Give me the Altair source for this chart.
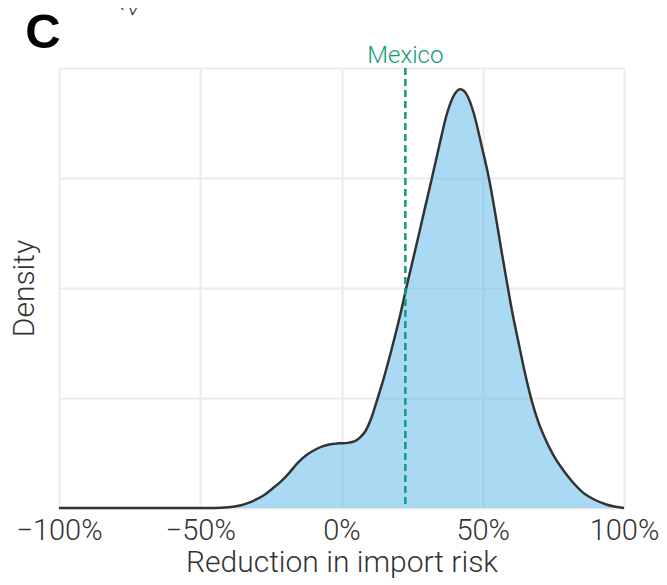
import altair as alt
import pandas as pd

# Density curve (x as fraction, density in grid units)
reduction = [-1.00, -0.45, -0.40, -0.36, -0.332, -0.30, -0.272, -0.245, -0.215, -0.185,
             -0.155, -0.125, -0.097, -0.068, -0.039, -0.01, 0.021, 0.045, 0.065, 0.085,
             0.103, 0.127, 0.145, 0.176, 0.206, 0.230, 0.266, 0.292, 0.321, 0.345,
             0.374, 0.400, 0.421, 0.445, 0.468, 0.497, 0.521, 0.544, 0.564, 0.583,
             0.603, 0.627, 0.650, 0.674, 0.697, 0.721, 0.748, 0.786, 0.815, 0.855,
             0.896, 0.94, 1.00]
density = [0.0, 0.0, 0.006, 0.022, 0.045, 0.08, 0.12, 0.175, 0.24, 0.32,
           0.41, 0.48, 0.525, 0.56, 0.58, 0.588, 0.592, 0.605, 0.64, 0.70,
           0.80, 0.99, 1.14, 1.43, 1.736, 2.009, 2.40, 2.69, 3.009, 3.282,
           3.591, 3.76, 3.806, 3.75, 3.591, 3.282, 3.009, 2.682, 2.373, 2.09,
           1.80, 1.50, 1.22, 0.97, 0.78, 0.63, 0.49, 0.34, 0.245, 0.14,
           0.075, 0.03, 0.0]
mexico_value = [0.226]
mexico_label = ["Mexico"]
x_ticks = [-1.0, -0.5, 0.0, 0.5, 1.0]
y_ticks = [0, 1, 2, 3, 4]

df = pd.DataFrame({"x": reduction, "y": density})
mex = pd.DataFrame({"x": mexico_value, "label": mexico_label})

FONT = "Roboto Light, Roboto"
xscale = alt.Scale(domain=[-1, 1], nice=False, zero=False)
yscale = alt.Scale(domain=[0, 4], nice=False)

base = alt.Chart(df)
area = base.mark_area(color="#56B4E9", opacity=0.5, interpolate="monotone").encode(
    x=alt.X("x:Q", scale=xscale,
            axis=alt.Axis(values=x_ticks, format=".0%", title="Reduction in import risk",
                          labelFontSize=29, labelFont=FONT, labelFontWeight=300,
                          labelColor="#333333", titleFont=FONT, titleFontWeight=300,
                          titleFontSize=30, titleColor="#333333", titlePadding=2,
                          ticks=False, domain=False, labelPadding=8, labelFlush=False,
                          labelOverlap=False,
                          grid=True, gridColor="#ebebeb", gridWidth=2)),
    y=alt.Y("y:Q", scale=yscale,
            axis=alt.Axis(values=y_ticks, labels=False, ticks=False, domain=False,
                          title="Density", titleFont=FONT, titleFontWeight=300,
                          titleFontSize=30, titleColor="#333333", titlePadding=20,
                          grid=True, gridColor="#ebebeb", gridWidth=2)),
)
line = base.mark_line(color="#333333", strokeWidth=2.5, interpolate="monotone").encode(
    x=alt.X("x:Q", scale=xscale), y=alt.Y("y:Q", scale=yscale)
)
rule = alt.Chart(mex).mark_rule(color="#0f9e75", strokeWidth=2.5, strokeDash=[7, 4]).encode(
    x=alt.X("x:Q", scale=xscale), y=alt.value(0), y2=alt.value(440)
)
mlabel = alt.Chart(mex).mark_text(color="#0f9e75", font=FONT, fontWeight=300, fontSize=24,
                                   baseline="alphabetic", align="center").encode(
    x=alt.X("x:Q", scale=xscale), y=alt.value(-5), text="label:N"
)
panel = alt.Chart(pd.DataFrame({"t": ["C"]})).mark_text(
    font="Liberation Sans", fontWeight="bold", fontSize=49, color="#000000",
    align="center", baseline="alphabetic").encode(
    x=alt.value(-16), y=alt.value(-20), text="t:N")
stray = alt.Chart(pd.DataFrame({"t": ["2"]})).mark_text(
    font=FONT, fontWeight=300, fontSize=22, color="#333333", angle=300,
    align="center", baseline="middle").encode(
    x=alt.value(70), y=alt.value(-60), text="t:N")

chart = alt.layer(area, line, rule, mlabel, panel, stray).properties(
    width=565, height=440,
    autosize=alt.AutoSizeParams(type="none"),
    padding={"left": 51, "top": 60, "right": 35, "bottom": 70},
).configure_view(stroke=None)

chart.save("out.html", embed_options={"renderer": "svg", "actions": False})
